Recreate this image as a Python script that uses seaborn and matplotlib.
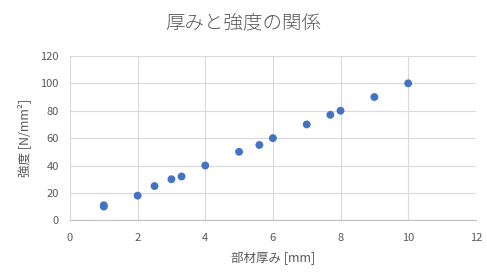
import matplotlib
matplotlib.use("Agg")
import matplotlib.pyplot as plt
import seaborn as sns
import pandas as pd

thickness = [1, 1, 2, 2.5, 3, 3.3, 4, 5, 5.6, 6, 7, 7.7, 8, 9, 10]
strength = [10, 11, 18, 25, 30, 32, 40, 50, 55, 60, 70, 77, 80, 90, 100]
x_ticks = [0, 2, 4, 6, 8, 10, 12]
y_ticks = [0, 20, 40, 60, 80, 100, 120]

sns.set_theme(style="white")
plt.rcParams['font.family'] = ['Noto Sans CJK JP', 'DejaVu Sans']

df = pd.DataFrame({"thickness": thickness, "strength": strength})

fig = plt.figure(figsize=(4.87, 2.77), dpi=100)
ax = fig.add_axes([0.1437, 0.2047, 0.8333, 0.5933])
sns.scatterplot(data=df, x="thickness", y="strength", ax=ax, color="#4472C4",
                s=32, edgecolor="none", zorder=3)

ax.set_xlim(0, 12)
ax.set_ylim(0, 120)
ax.set_xticks(x_ticks)
ax.set_yticks(y_ticks)
ax.grid(True, color="#d9d9d9", linewidth=0.8)
for side in ["top", "right", "left"]:
    ax.spines[side].set_visible(False)
ax.spines["bottom"].set_color("#bfbfbf")
ax.spines["bottom"].set_linewidth(0.8)
ax.tick_params(axis="both", length=0, colors="#595959", labelsize=8)
ax.tick_params(axis="x", pad=9)
ax.tick_params(axis="y", pad=8)
ax.set_xlabel("部材厚み [mm]", fontsize=9, color="#595959", labelpad=7)
ax.set_ylabel("強度 [N/mm²]", fontsize=9, color="#595959", labelpad=7)
fig.suptitle("厚みと強度の関係", fontsize=14, color="#595959", y=0.955,
             fontweight="light")

fig.savefig("out.png", dpi=100)
